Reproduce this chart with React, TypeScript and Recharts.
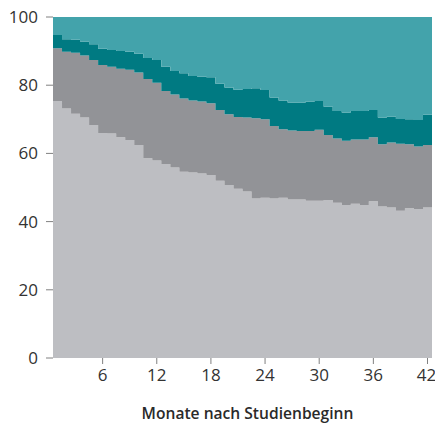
import React from "react";
import { AreaChart, Area, XAxis, YAxis } from "recharts";

const months = [
  1, 2, 3, 4, 5, 6, 7, 8, 9, 10, 11, 12, 13, 14, 15, 16, 17, 18, 19, 20, 21,
  22, 23, 24, 25, 26, 27, 28, 29, 30, 31, 32, 33, 34, 35, 36, 37, 38, 39, 40,
  41, 42,
];

const lightGrayShare = [
  75.4, 73.2, 71.6, 70.5, 68.3, 66.0, 65.8, 64.7, 63.9, 62.5,
  58.6, 57.9, 56.9, 55.9, 54.6, 54.4, 54.1, 53.7, 52.0, 50.7,
  49.6, 48.8, 46.8, 47.0, 46.8, 47.0, 46.5, 46.5, 46.1, 46.1,
  46.3, 45.5, 44.9, 45.2, 44.9, 46.0, 44.4, 44.1, 43.2, 43.9,
  43.7, 44.1,
];

const darkGrayShare = [
  15.4, 16.6, 17.9, 18.2, 19.1, 19.9, 19.6, 20.1, 20.6, 21.2,
  23.2, 22.8, 21.4, 21.4, 21.5, 21.1, 21.1, 21.0, 20.7, 20.8,
  21.1, 21.7, 23.5, 23.0, 21.2, 20.1, 20.2, 20.1, 20.5, 20.8,
  19.1, 18.9, 18.8, 18.9, 19.2, 18.7, 18.3, 19.1, 19.6, 18.8,
  18.3, 18.4,
];

const darkTealShare = [
  3.9, 3.7, 3.8, 4.1, 4.6, 4.8, 4.9, 5.2, 5.3, 5.5,
  6.2, 6.7, 7.1, 6.9, 7.4, 7.2, 7.3, 7.6, 7.7, 7.8,
  8.0, 8.4, 8.8, 8.6, 8.4, 8.4, 8.2, 8.3, 8.6, 8.5,
  8.3, 8.0, 8.3, 8.3, 8.3, 8.0, 7.8, 7.6, 7.3, 7.3,
  7.8, 8.8,
];

const lightTealShare = [
  5.3, 6.5, 6.7, 7.2, 8.0, 9.3, 9.7, 10.0, 10.2, 10.8,
  12.0, 12.6, 14.6, 15.8, 16.5, 17.3, 17.5, 17.7, 19.6, 20.7,
  21.3, 21.1, 20.9, 21.4, 23.6, 24.5, 25.1, 25.1, 24.8, 24.6,
  26.3, 27.6, 28.0, 27.6, 27.6, 27.3, 29.5, 29.2, 29.9, 30.0,
  30.2, 28.7,
];

const xTicks = [6, 12, 18, 24, 30, 36, 42];
const yTicks = [0, 20, 40, 60, 80, 100];

// Each month is drawn as a step spanning [month - 0.5, month + 0.5]
const rows = months.map((m, i) => ({
  x: m - 0.5,
  a: lightGrayShare[i],
  b: darkGrayShare[i],
  c: darkTealShare[i],
  d: lightTealShare[i],
}));
const last = months.length - 1;
rows.push({
  x: months[last] + 0.5,
  a: lightGrayShare[last],
  b: darkGrayShare[last],
  c: darkTealShare[last],
  d: lightTealShare[last],
});

const FONT = "'Open Sans', 'Noto Sans', sans-serif";

export default function App() {
  return (
    <div style={{ position: "absolute", left: 0, top: 0, width: 435, height: 424, background: "#fff" }}>
      <AreaChart
        width={435}
        height={424}
        data={rows}
        margin={{ top: 17, right: 3, left: 0, bottom: 0 }}
      >
        <XAxis
          dataKey="x"
          type="number"
          domain={[0.5, 42.5]}
          ticks={xTicks}
          allowDataOverflow
          axisLine={false}
          tickLine={{ stroke: "#808080", strokeWidth: 1 }}
          tickSize={6}
          tickMargin={5}
          height={66}
          tick={{ fill: "#333", fontSize: 17, fontFamily: FONT }}
          label={{
            value: "Monate nach Studienbeginn",
            position: "insideBottom",
            offset: 5,
            dx: 5,
            style: { fill: "#2a2a2a", fontSize: 15.6, fontWeight: 600, fontFamily: FONT },
          }}
        />
        <YAxis
          type="number"
          domain={[0, 100]}
          ticks={yTicks}
          width={53}
          axisLine={false}
          tickLine={{ stroke: "#808080", strokeWidth: 1 }}
          tickSize={7}
          tickMargin={8}
          tick={{ fill: "#333", fontSize: 17, fontFamily: FONT }}
        />
        <Area type="stepAfter" dataKey="a" stackId="s" stroke="none" fill="#bdbec2" fillOpacity={1} isAnimationActive={false} />
        <Area type="stepAfter" dataKey="b" stackId="s" stroke="none" fill="#929397" fillOpacity={1} isAnimationActive={false} />
        <Area type="stepAfter" dataKey="c" stackId="s" stroke="none" fill="#007a82" fillOpacity={1} isAnimationActive={false} />
        <Area type="stepAfter" dataKey="d" stackId="s" stroke="none" fill="#43a3ab" fillOpacity={1} isAnimationActive={false} />
      </AreaChart>
    </div>
  );
}
